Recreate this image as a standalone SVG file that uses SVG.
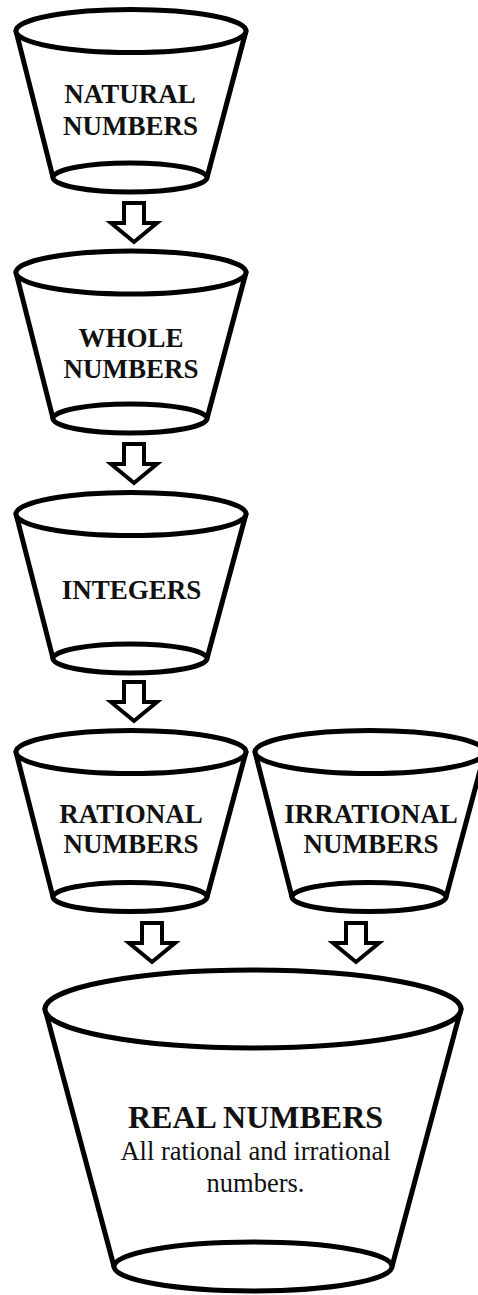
<svg xmlns="http://www.w3.org/2000/svg" xmlns:xlink="http://www.w3.org/1999/xlink" width="478" height="1295" viewBox="0 0 478 1295">
<style>
.ln{fill:none;stroke:#000;stroke-width:5;stroke-linecap:round}
.el{fill:#fff;stroke:#000;stroke-width:5}
.lbl{font-family:"Liberation Serif","Times New Roman",serif;font-weight:bold;font-size:27px;fill:#111;text-anchor:middle}
.big{font-family:"Liberation Serif","Times New Roman",serif;font-weight:bold;font-size:32px;fill:#111;text-anchor:middle}
.sub{font-family:"Liberation Serif","Times New Roman",serif;font-size:26.5px;fill:#111;text-anchor:middle}
.arr{fill:#fff;stroke:#000;stroke-width:4;stroke-linejoin:miter}
</style>
<defs>
<path id="arrow" class="arr" d="M-10,0 H10 V20 H23 L0,39 L-23,20 H-10 Z"/>
</defs>
<rect width="478" height="1295" fill="#fff"/>
<g id="natural">
<path class="ln" d="M16,31 L53,177.5 M246,31 L207,177.5"/>
<ellipse class="el" cx="130" cy="177.5" rx="77" ry="14.5"/>
<ellipse class="el" cx="131" cy="31" rx="115" ry="21.5"/>
<text class="lbl" x="130" y="103">NATURAL</text>
<text class="lbl" x="130.5" y="135">NUMBERS</text>
</g>
<g id="whole">
<path class="ln" d="M16,272.5 L53,418.5 M246,272.5 L207,418.5"/>
<ellipse class="el" cx="130" cy="418.5" rx="77" ry="14.5"/>
<ellipse class="el" cx="131" cy="272.5" rx="115" ry="21.5"/>
<text class="lbl" x="131" y="347">WHOLE</text>
<text class="lbl" x="131" y="378">NUMBERS</text>
</g>
<g id="integers">
<path class="ln" d="M16,514 L53,658.5 M246,514 L207,658.5"/>
<ellipse class="el" cx="130" cy="658.5" rx="77" ry="14.5"/>
<ellipse class="el" cx="131" cy="514" rx="115" ry="21.5"/>
<text class="lbl" x="131.5" y="599">INTEGERS</text>
</g>
<g id="rational">
<path class="ln" d="M16,752 L53,897 M246,752 L207,897"/>
<ellipse class="el" cx="130" cy="897" rx="77" ry="14.5"/>
<ellipse class="el" cx="131" cy="752" rx="115" ry="21.5"/>
<text class="lbl" x="131" y="823">RATIONAL</text>
<text class="lbl" x="131" y="853">NUMBERS</text>
</g>
<g id="irrational">
<path class="ln" d="M255,752 L292,897 M485,752 L446,897"/>
<ellipse class="el" cx="369" cy="897" rx="77" ry="14.5"/>
<ellipse class="el" cx="370" cy="752" rx="115" ry="21.5"/>
<text class="lbl" x="371" y="823">IRRATIONAL</text>
<text class="lbl" x="371" y="853">NUMBERS</text>
</g>
<g id="real">
<path class="ln" d="M45,1009 L114,1266.5 M461,1009 L392,1266.5"/>
<ellipse class="el" cx="253" cy="1266.5" rx="139" ry="24.5"/>
<ellipse class="el" cx="253" cy="1009" rx="208" ry="39"/>
<text class="big" x="255.5" y="1128">REAL NUMBERS</text>
<text class="sub" x="255.5" y="1160">All rational and irrational</text>
<text class="sub" x="255.5" y="1192">numbers.</text>
</g>
<g id="connectors">
<use xlink:href="#arrow" x="134" y="203"/>
<use xlink:href="#arrow" x="134" y="444"/>
<use xlink:href="#arrow" x="134" y="682"/>
<use xlink:href="#arrow" x="152" y="923"/>
<use xlink:href="#arrow" x="356" y="923"/>
</g>
</svg>
